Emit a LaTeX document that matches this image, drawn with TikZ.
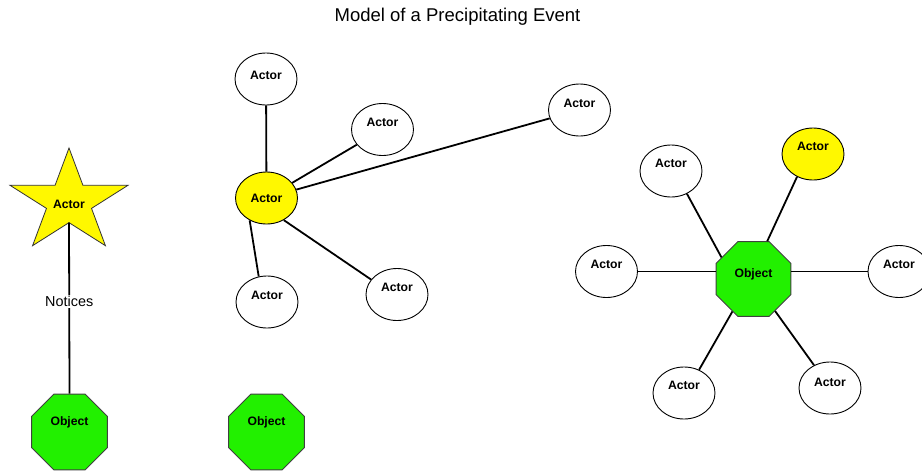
\documentclass[tikz,border=0pt]{standalone}
\usepackage{fontspec}
\setmainfont{Liberation Sans}
\usetikzlibrary{shapes.geometric}
\definecolor{actyellow}{RGB}{255,248,0}
\definecolor{objgreen}{RGB}{34,240,0}
\begin{document}
\begin{tikzpicture}[x=1pt,y=-1pt,
  lbl/.style={font=\fontsize{12.2}{14}\selectfont\bfseries},
  actor/.style={ellipse, draw=black, line width=0.9pt, fill=white,
    minimum width=62pt, minimum height=52pt, inner sep=0pt,
    text height=9pt, text depth=#1, lbl},
  actor/.default=14.4pt,
  hotactor/.style={actor=#1, fill=actyellow},
  hotactor/.default=14.4pt,
  object/.style={regular polygon, regular polygon sides=8, draw=black!75,
    line width=0.9pt, fill=objgreen, minimum size=81pt, inner sep=0pt,
    text height=9pt, text depth=#1, lbl},
  object/.default=12.4pt,
  link/.style={line width=1.8pt, black},
  verb/.style={fill=white, inner sep=1pt, font=\fontsize{14.4}{16}\selectfont}
]
\useasboundingbox (0,0) rectangle (922,472);
\fill[white] (0,0) rectangle (922,472);

% title
\node[font=\fontsize{18.5}{22}\selectfont] (title) at (457.5,17) {Model of a Precipitating Event};

% ---------- left: star actor notices object ----------
\begin{scope}[shift={(69,202)}, xscale=62, yscale=54]
  \filldraw[fill=actyellow, draw=black!80, line width=0.8pt]
    (-90:1) -- (-126:0.382) -- (-162:1) -- (-198:0.382) -- (-234:1) --
    (-270:0.382) -- (-306:1) -- (-342:0.382) -- (-18:1) -- (-54:0.382) -- cycle;
\end{scope}
\node[lbl] (sa) at (69,204) {Actor};
\coordinate (sbot) at (69,222.6);
\node[object=22.4pt, minimum size=82pt] (ob1) at (69.5,432) {Object};
\draw[link] (sbot) -- (ob1.north) node[verb, pos=0.46] {Notices};

% ---------- middle: actor network ----------
\node[hotactor=0.4pt] (m0) at (266.5,198) {Actor};
\node[actor=8.4pt] (m1) at (266,79) {Actor};
\node[actor] (m2) at (382.5,129.5) {Actor};
\node[actor] (m3) at (579.5,110) {Actor};
\node[actor] (m4) at (267,302) {Actor};
\node[actor] (m5) at (397,294.5) {Actor};
\node[object=22.4pt, minimum size=82pt] (ob2) at (266.5,432) {Object};

\draw[link] (m1) -- (m0);
\draw[link] (m0) -- (m2);
\draw[link] (m0) -- (m3);
\draw[link] (m0.233) -- (m4.108);
\draw[link] (m0.308) -- (m5.150);

% ---------- right: object with actors ----------
\node[object] (o) at (753.5,279) {Object};
\node[actor=16.4pt] (r1) at (671,171) {Actor};
\node[hotactor=16.4pt] (r2) at (813,154) {Actor};
\node[actor] (r3) at (606.5,271.5) {Actor};
\node[actor] (r4) at (899,271.5) {Actor};
\node[actor=16.4pt] (r5) at (684,393) {Actor};
\node[actor=12.4pt] (r6) at (830,388) {Actor};

\draw[link] (r1.305) -- (o.146);
\draw[link] (o.70) -- (r2.235);
\draw[link] (r3.east) -- (r3.east -| o.west);
\draw[link] (r4.west) -- (r4.west -| o.east);
\draw[link] (o.237) -- (r5.57);
\draw[link] (o.304) -- (r6.125);
\end{tikzpicture}
\end{document}
